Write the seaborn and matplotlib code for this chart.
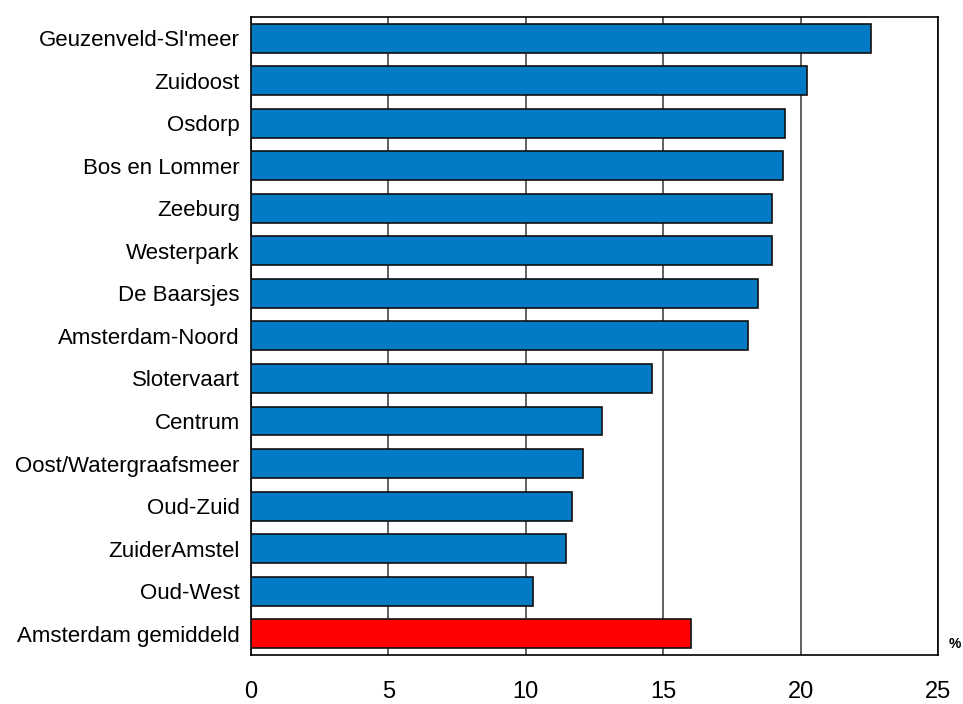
import pandas as pd
import matplotlib
matplotlib.use('Agg')
import matplotlib.pyplot as plt
import seaborn as sns

# data
districts = ["Geuzenveld-Sl'meer", 'Zuidoost', 'Osdorp', 'Bos en Lommer', 'Zeeburg',
             'Westerpark', 'De Baarsjes', 'Amsterdam-Noord', 'Slotervaart', 'Centrum',
             'Oost/Watergraafsmeer', 'Oud-Zuid', 'ZuiderAmstel', 'Oud-West',
             'Amsterdam gemiddeld']
values = [22.55, 20.25, 19.45, 19.35, 18.97, 18.97, 18.45, 18.07, 14.58, 12.78,
          12.09, 11.7, 11.48, 10.27, 16.0]
xticks = [0, 5, 10, 15, 20, 25]

BLUE = '#027BC4'
RED = '#FF0000'


def main():
    df = pd.DataFrame({'district': districts, 'value': values})
    colors = {d: BLUE for d in districts}
    colors['Amsterdam gemiddeld'] = RED

    sns.set_style('white')
    plt.rcParams['font.family'] = ['Liberation Sans', 'DejaVu Sans']
    plt.rcParams['text.color'] = 'black'
    plt.rcParams['xtick.color'] = 'black'
    plt.rcParams['ytick.color'] = 'black'

    fig = plt.figure(figsize=(9.63, 7.04), dpi=100)
    ax = fig.add_axes([0.2606, 0.0696, 0.7134, 0.9064])

    sns.barplot(data=df, x='value', y='district', hue='district', palette=colors,
                order=districts, legend=False, width=0.68, edgecolor='#111111',
                linewidth=1.2, saturation=1, ax=ax, zorder=3)

    ax.set_xlim(0, 25)
    ax.set_ylim(len(districts) - 0.5, -0.5)
    ax.set_xticks(xticks)
    ax.set_xticklabels([str(t) for t in xticks])
    ax.xaxis.grid(True, color='#555555', linewidth=1.3, zorder=0)
    ax.yaxis.grid(False)
    ax.set_axisbelow(True)
    ax.set_xlabel('')
    ax.set_ylabel('')

    for s in ax.spines.values():
        s.set_visible(True)
        s.set_color('black')
        s.set_linewidth(1.2)

    ax.tick_params(axis='x', length=0, pad=19, labelsize=17, labelcolor='black')
    ax.tick_params(axis='y', length=0, pad=8, labelsize=16, labelcolor='black')

    fig.text(0.992, 0.085, '%', fontsize=10, fontweight='bold', ha='center', va='center')

    fig.savefig('out.png', dpi=100)


if __name__ == '__main__':
    main()
